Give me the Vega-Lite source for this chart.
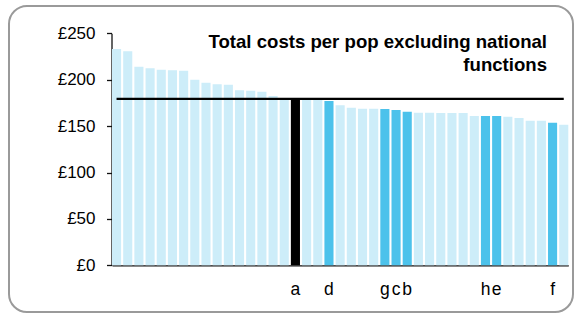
{
  "$schema": "https://vega.github.io/schema/vega-lite/v6.json",
  "width": 564,
  "height": 306,
  "autosize": {"type": "none"},
  "padding": {"left": 9, "top": 6, "right": 1, "bottom": 2},
  "background": "#ffffff",
  "title": {
    "text": ["Total costs per pop excluding national", "functions"],
    "orient": "top",
    "anchor": "end",
    "align": "right",
    "frame": "group",
    "baseline": "top",
    "offset": -69,
    "dx": -26,
    "fontSize": 18.6,
    "fontWeight": "bold",
    "font": "Liberation Sans",
    "color": "#000000",
    "lineHeight": 23.5
  },
  "data": {
    "values": [
      {"rank": 1, "cost": 233, "group": "other", "label": "", "avg": 179.4},
      {"rank": 2, "cost": 230.6, "group": "other", "label": "", "avg": 179.4},
      {"rank": 3, "cost": 214, "group": "other", "label": "", "avg": 179.4},
      {"rank": 4, "cost": 212.3, "group": "other", "label": "", "avg": 179.4},
      {"rank": 5, "cost": 210.8, "group": "other", "label": "", "avg": 179.4},
      {"rank": 6, "cost": 210.1, "group": "other", "label": "", "avg": 179.4},
      {"rank": 7, "cost": 209.7, "group": "other", "label": "", "avg": 179.4},
      {"rank": 8, "cost": 200, "group": "other", "label": "", "avg": 179.4},
      {"rank": 9, "cost": 196.8, "group": "other", "label": "", "avg": 179.4},
      {"rank": 10, "cost": 195, "group": "other", "label": "", "avg": 179.4},
      {"rank": 11, "cost": 194.6, "group": "other", "label": "", "avg": 179.4},
      {"rank": 12, "cost": 188.6, "group": "other", "label": "", "avg": 179.4},
      {"rank": 13, "cost": 188.2, "group": "other", "label": "", "avg": 179.4},
      {"rank": 14, "cost": 187, "group": "other", "label": "", "avg": 179.4},
      {"rank": 15, "cost": 182.4, "group": "other", "label": "", "avg": 179.4},
      {"rank": 16, "cost": 179.6, "group": "other", "label": "", "avg": 179.4},
      {"rank": 17, "cost": 179.4, "group": "own", "label": "a", "avg": 179.4},
      {"rank": 18, "cost": 178.1, "group": "other", "label": "", "avg": 179.4},
      {"rank": 19, "cost": 178, "group": "other", "label": "", "avg": 179.4},
      {"rank": 20, "cost": 177, "group": "peer", "label": "d", "avg": 179.4},
      {"rank": 21, "cost": 172.4, "group": "other", "label": "", "avg": 179.4},
      {"rank": 22, "cost": 169.8, "group": "other", "label": "", "avg": 179.4},
      {"rank": 23, "cost": 168.8, "group": "other", "label": "", "avg": 179.4},
      {"rank": 24, "cost": 168.8, "group": "other", "label": "", "avg": 179.4},
      {"rank": 25, "cost": 168.4, "group": "peer", "label": "g", "avg": 179.4},
      {"rank": 26, "cost": 167.3, "group": "peer", "label": "c", "avg": 179.4},
      {"rank": 27, "cost": 165.5, "group": "peer", "label": "b", "avg": 179.4},
      {"rank": 28, "cost": 164.5, "group": "other", "label": "", "avg": 179.4},
      {"rank": 29, "cost": 164.5, "group": "other", "label": "", "avg": 179.4},
      {"rank": 30, "cost": 164.1, "group": "other", "label": "", "avg": 179.4},
      {"rank": 31, "cost": 164.1, "group": "other", "label": "", "avg": 179.4},
      {"rank": 32, "cost": 164.1, "group": "other", "label": "", "avg": 179.4},
      {"rank": 33, "cost": 160.9, "group": "other", "label": "", "avg": 179.4},
      {"rank": 34, "cost": 160.9, "group": "peer", "label": "h", "avg": 179.4},
      {"rank": 35, "cost": 160.9, "group": "peer", "label": "e", "avg": 179.4},
      {"rank": 36, "cost": 160.2, "group": "other", "label": "", "avg": 179.4},
      {"rank": 37, "cost": 158.7, "group": "other", "label": "", "avg": 179.4},
      {"rank": 38, "cost": 155.8, "group": "other", "label": "", "avg": 179.4},
      {"rank": 39, "cost": 155.8, "group": "other", "label": "", "avg": 179.4},
      {"rank": 40, "cost": 153.7, "group": "peer", "label": "f", "avg": 179.4},
      {"rank": 41, "cost": 151.5, "group": "other", "label": "", "avg": 179.4}
    ]
  },
  "encoding": {
    "x": {
      "field": "rank",
      "type": "ordinal",
      "scale": {"range": [103, 559.3], "paddingInner": 0.186, "paddingOuter": 0},
      "axis": {
        "orient": "bottom",
        "offset": -46.7,
        "labels": false,
        "ticks": false,
        "title": null,
        "domainColor": "#111111",
        "domainWidth": 1.3
      }
    }
  },
  "layer": [
    {
      "mark": {"type": "bar"},
      "encoding": {
        "y": {
          "field": "cost",
          "type": "quantitative",
          "scale": {"domain": [0, 250], "range": [259.3, 27.3], "nice": false},
          "axis": {
            "orient": "left",
            "offset": -102.5,
            "values": [0, 50, 100, 150, 200, 250],
            "labelExpr": "'£' + datum.label",
            "grid": false,
            "title": null,
            "domainColor": "#111111",
            "domainWidth": 1.3,
            "tickColor": "#111111",
            "tickWidth": 1.3,
            "tickSize": 5,
            "labelPadding": 11.5,
            "labelFont": "Liberation Sans",
            "labelFontSize": 17,
            "labelColor": "#000000"
          }
        },
        "color": {
          "field": "group",
          "type": "nominal",
          "scale": {"domain": ["other", "peer", "own"], "range": ["#CDEDF9", "#4CC2EB", "#000000"]},
          "legend": null
        }
      }
    },
    {
      "mark": {"type": "line", "color": "#000000", "strokeWidth": 2.3},
      "encoding": {
        "y": {"field": "avg", "type": "quantitative"}
      }
    },
    {
      "mark": {"type": "text", "dy": 30, "baseline": "alphabetic", "align": "center", "font": "Liberation Sans", "fontSize": 17.5, "color": "#000000"},
      "encoding": {
        "y": {"datum": 0, "type": "quantitative"},
        "text": {"field": "label", "type": "nominal"}
      }
    }
  ],
  "config": {
    "view": {"stroke": "#9a9a9a", "strokeWidth": 2, "cornerRadius": 18, "fill": "#ffffff"}
  }
}
